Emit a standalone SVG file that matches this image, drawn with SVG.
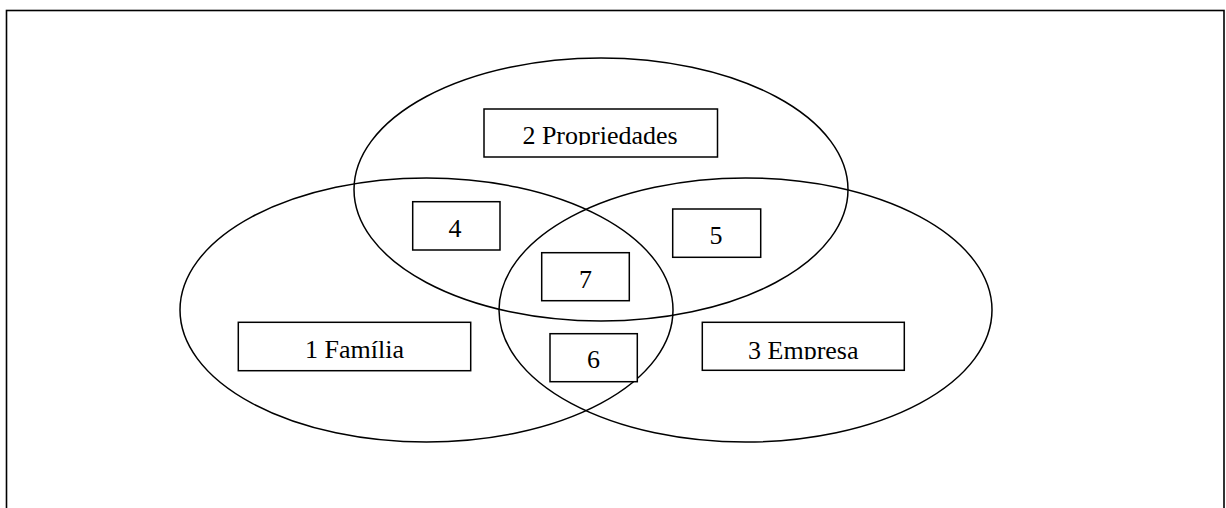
<svg xmlns="http://www.w3.org/2000/svg" width="1226" height="508" viewBox="0 0 1226 508">
<style>
.frame{fill:#fff;stroke:#000;stroke-width:1.6}
.set{fill:none;stroke:#000;stroke-width:1.5}
.box{fill:#fff;stroke:#000;stroke-width:1.5}
.lbl{font-family:"Liberation Serif","Times New Roman",serif;font-size:26px;fill:#000;text-anchor:middle}
</style>
<defs>
<clipPath id="clipProp"><rect x="484" y="109" width="234" height="36"/></clipPath>
<clipPath id="clipEmp"><rect x="702" y="322" width="202" height="37.5"/></clipPath>
</defs>
<rect class="frame" x="6.5" y="10.5" width="1217.5" height="510"/>
<g id="sets">
<ellipse id="set-propriedades" class="set" cx="601" cy="189.5" rx="247" ry="131.5"/>
<ellipse id="set-familia" class="set" cx="426.5" cy="310" rx="246.5" ry="132"/>
<ellipse id="set-empresa" class="set" cx="745.5" cy="310" rx="246.5" ry="132"/>
</g>
<g id="connectors"></g>
<g id="node-2">
<rect class="box" x="484" y="109" width="233.5" height="48"/>
<text class="lbl" x="600" y="144" clip-path="url(#clipProp)">2 Propriedades</text>
</g>
<g id="node-4">
<rect class="box" x="412.7" y="201.7" width="87.3" height="48.3"/>
<text class="lbl" x="455" y="236.5">4</text>
</g>
<g id="node-5">
<rect class="box" x="672.7" y="209" width="88" height="48.3"/>
<text class="lbl" x="716" y="244">5</text>
</g>
<g id="node-7">
<rect class="box" x="541.7" y="252.7" width="87.6" height="48"/>
<text class="lbl" x="585.5" y="287.7">7</text>
</g>
<g id="node-1">
<rect class="box" x="238.3" y="322.3" width="232.4" height="48.4"/>
<text class="lbl" x="354.5" y="357.7">1 Família</text>
</g>
<g id="node-6">
<rect class="box" x="550" y="333.7" width="87.3" height="48"/>
<text class="lbl" x="593.5" y="368">6</text>
</g>
<g id="node-3">
<rect class="box" x="702.3" y="322.3" width="202" height="48"/>
<text class="lbl" x="803.3" y="359" clip-path="url(#clipEmp)">3 Empresa</text>
</g>
</svg>
